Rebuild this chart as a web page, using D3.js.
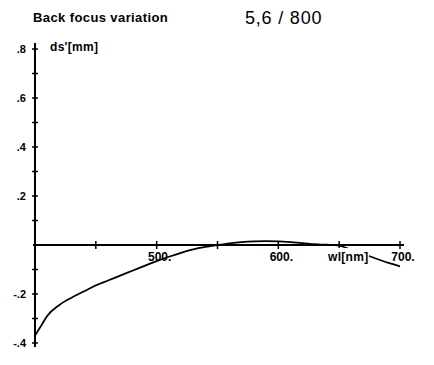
<!DOCTYPE html>
<html><head><meta charset="utf-8">
<script src="https://cdn.jsdelivr.net/npm/d3@7"></script>
<style>body{margin:0;background:#fff}svg{display:block}</style>
</head><body>
<svg id="c" width="434" height="365"></svg>
<script>
const wavelength = [400,405,410,420,430,440,450,460,470,480,490,500,510,520,530,540,550,560,570,580,590,600,610,620,630,640,650,660,670,680,690,700];
const backFocus  = [-0.37,-0.33,-0.29,-0.245,-0.215,-0.19,-0.165,-0.145,-0.125,-0.105,-0.085,-0.066,-0.048,-0.032,-0.018,-0.008,0.0,0.007,0.012,0.015,0.016,0.015,0.012,0.008,0.003,0.001,-0.003,-0.02,-0.037,-0.055,-0.072,-0.087];
const xTicks = [450,500,550,600,650,700];
const xTickLabels = [{v:500,t:"500."},{v:600,t:"600."},{v:700,t:"700."}];
const yTicks = [-0.4,-0.3,-0.2,-0.1,0.1,0.2,0.3,0.4,0.5,0.6,0.7,0.8];
const yTickLabels = [{v:0.8,t:".8"},{v:0.6,t:".6"},{v:0.4,t:".4"},{v:0.2,t:".2"},{v:-0.2,t:"-.2"},{v:-0.4,t:"-.4"}];
const title = "Back focus variation";
const subtitle = "5,6 / 800";

const svg = d3.select("#c");
const x = d3.scaleLinear().domain([400,700]).range([35,400]);
const y = d3.scaleLinear().domain([-0.4,0.8]).range([343,49]);
const font = "'Liberation Sans', Arial, sans-serif";

svg.append("text").attr("x",33).attr("y",22).attr("font-family",font).attr("font-weight","bold")
  .attr("font-size",13).attr("letter-spacing",0.4).text(title);
svg.append("text").attr("x",245).attr("y",24).attr("font-family",font)
  .attr("font-size",18).attr("letter-spacing",0.8).text(subtitle);

// axes lines
svg.append("line").attr("x1",x(400)).attr("x2",x(400)).attr("y1",y(0.8)-6).attr("y2",y(-0.4)+4)
  .attr("stroke","#000").attr("stroke-width",2);
svg.append("line").attr("x1",x(400)-2).attr("x2",x(700)+4).attr("y1",y(0)).attr("y2",y(0))
  .attr("stroke","#000").attr("stroke-width",2);

// y ticks
svg.append("g").selectAll("line").data(yTicks).join("line")
  .attr("x1",x(400)-3).attr("x2",x(400)+3).attr("y1",d=>y(d)).attr("y2",d=>y(d))
  .attr("stroke","#000").attr("stroke-width",1.5);
svg.append("g").selectAll("text").data(yTickLabels).join("text")
  .attr("x",26).attr("y",d=>y(d.v)+4).attr("text-anchor","end")
  .attr("font-family",font).attr("font-weight","bold").attr("font-size",11).text(d=>d.t);

// x ticks
svg.append("g").selectAll("line").data(xTicks).join("line")
  .attr("x1",d=>x(d)).attr("x2",d=>x(d)).attr("y1",y(0)-4).attr("y2",y(0)+4)
  .attr("stroke","#000").attr("stroke-width",1.5);

// curve
const line = d3.line().x((d,i)=>x(wavelength[i])).y(d=>y(d)).curve(d3.curveMonotoneX);
svg.append("path").datum(backFocus).attr("d",line).attr("fill","none")
  .attr("stroke","#000").attr("stroke-width",1.8);

// x tick labels
svg.append("g").selectAll("text").data(xTickLabels).join("text")
  .attr("x",d=>x(d.v)+3).attr("y",y(0)+16).attr("text-anchor","middle")
  .attr("font-family",font).attr("font-weight","bold").attr("font-size",12).text(d=>d.t);

// axis titles
const wl = svg.append("g");
wl.append("rect").attr("x",x(400)+292).attr("y",y(0)+3).attr("width",42).attr("height",16).attr("fill","#fff");
wl.append("text").attr("x",x(400)+293).attr("y",y(0)+16).attr("font-family",font).attr("font-weight","bold")
  .attr("font-size",12).attr("letter-spacing",0.3).text("wl[nm]");
svg.append("text").attr("x",50).attr("y",y(0.8)+2).attr("font-family",font).attr("font-weight","bold")
  .attr("font-size",12).attr("letter-spacing",0.3).text("ds'[mm]");
</script>
</body></html>
